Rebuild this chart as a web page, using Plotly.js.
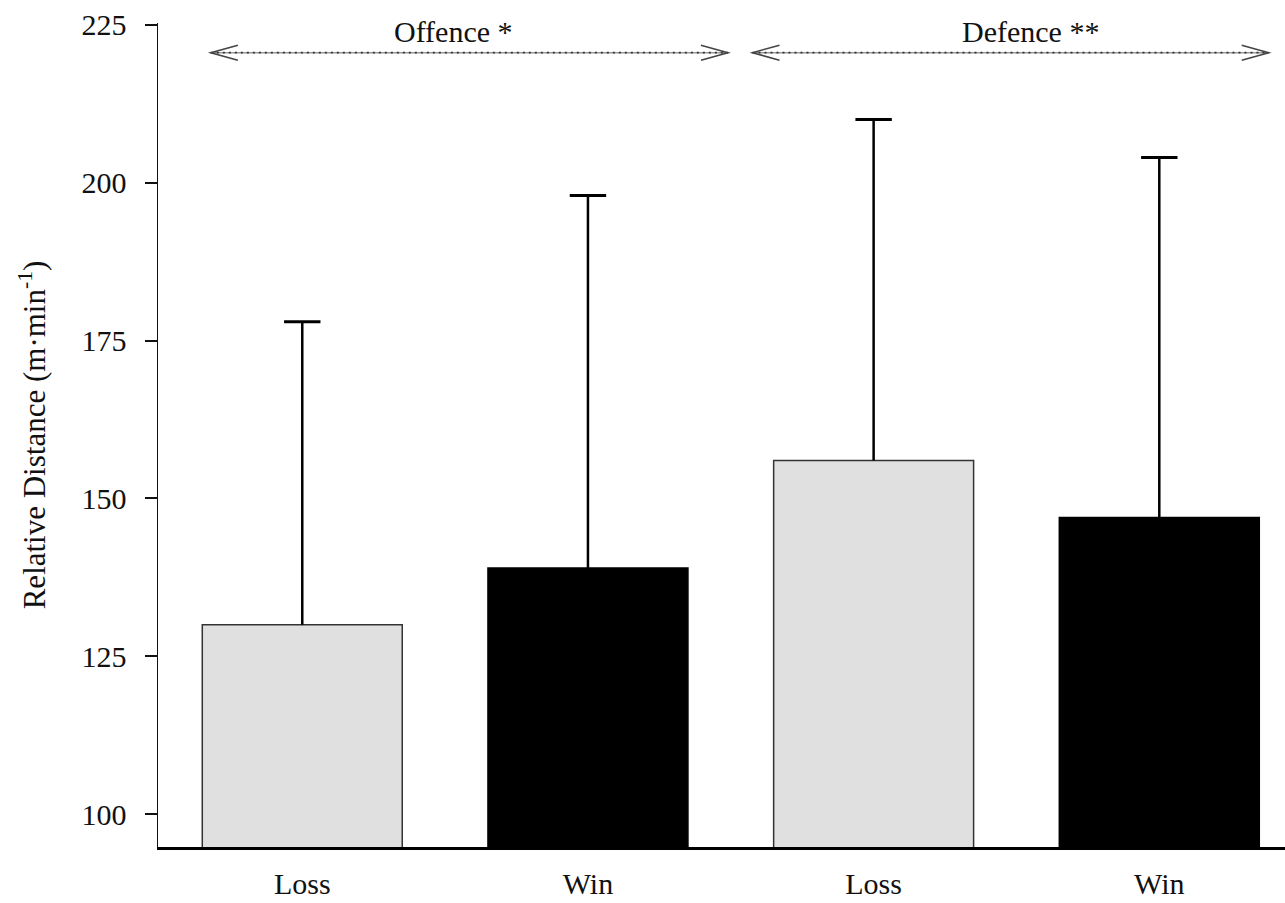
<!DOCTYPE html>
<html>
<head>
<meta charset="utf-8">
<script src="https://cdn.plot.ly/plotly-3.0.1.min.js"></script>
<style>html,body{margin:0;padding:0;background:#fff;}#chart{width:1285px;height:903px;}</style>
</head>
<body>
<div id="chart"></div>
<script>
// ---- data ----
var positions = [0, 1, 2, 3];
var tickLabels = ["Loss", "Win", "Loss", "Win"];
var outcomes = ["Loss", "Win", "Loss", "Win"];
var means = [130, 139, 156, 147];
var sds = [48, 59, 54, 57];
var yTicks = [100, 125, 150, 175, 200, 225];
var groupLabels = ["Offence *", "Defence **"];
var groupCenters = [0.53, 2.55];
var groupSpans = [[-0.32, 1.49], [1.576, 3.383]];

var colorFor = {"Loss": "#e0e0e0", "Win": "#000000"};
var outlineFor = {"Loss": "#333333", "Win": "#000000"};

var FONT = "Liberation Serif, Times New Roman, serif";

var bars = {
  type: "bar",
  x: positions,
  y: means,
  width: 0.7,
  marker: {
    color: outcomes.map(function (o) { return colorFor[o]; }),
    line: { color: outcomes.map(function (o) { return outlineFor[o]; }), width: 1.5 }
  },
  hoverinfo: "skip"
};

// upper-only error bars: stems and caps
var stemX = [], stemY = [];
var capY = [];
for (var i = 0; i < positions.length; i++) {
  stemX.push(positions[i], positions[i], null);
  stemY.push(means[i], means[i] + sds[i], null);
  capY.push(means[i] + sds[i]);
}
var stems = {
  type: "scatter", mode: "lines", x: stemX, y: stemY,
  line: { color: "#000", width: 2.5 }, hoverinfo: "skip", cliponaxis: false
};
var caps = {
  type: "scatter", mode: "markers", x: positions, y: capY,
  marker: { symbol: "line-ew", size: 26, line: { color: "#000", width: 3 } },
  hoverinfo: "skip", cliponaxis: false
};

var arrowY = 220.6;
var labelY = 223.9;
var shapes = [];
var annotations = [];
for (var g = 0; g < groupLabels.length; g++) {
  var a = groupSpans[g][0], b = groupSpans[g][1];
  shapes.push({ type: "line", xref: "x", yref: "y", x0: a, x1: b, y0: arrowY, y1: arrowY,
    line: { color: "#999999", width: 1.5 } });
  shapes.push({ type: "line", xref: "x", yref: "y", x0: a, x1: b, y0: arrowY, y1: arrowY,
    line: { color: "#333333", width: 1.8, dash: "2px,4px" } });
  // chevron heads
  shapes.push({ type: "path", xref: "x", yref: "y", xsizemode: "pixel", ysizemode: "pixel",
    xanchor: a, yanchor: arrowY, path: "M27,7.5L0,0L27,-7.5",
    line: { color: "#444444", width: 1.6 } });
  shapes.push({ type: "path", xref: "x", yref: "y", xsizemode: "pixel", ysizemode: "pixel",
    xanchor: b, yanchor: arrowY, path: "M-27,7.5L0,0L-27,-7.5",
    line: { color: "#444444", width: 1.6 } });
  annotations.push({ xref: "x", yref: "y", x: groupCenters[g], y: labelY, text: groupLabels[g],
    showarrow: false, font: { family: FONT, size: 30, color: "#111" }, xanchor: "center", yanchor: "middle" });
}

var layout = {
  width: 1285, height: 903,
  margin: { l: 158, r: 0, t: 23, b: 56 },
  paper_bgcolor: "#fff", plot_bgcolor: "#fff",
  showlegend: false,
  font: { family: FONT, size: 30, color: "#111" },
  xaxis: {
    range: [-0.505, 3.44],
    tickvals: positions, ticktext: tickLabels,
    showline: true, linecolor: "#000", linewidth: 2.5,
    ticks: "", showgrid: false, zeroline: false,
    ticklabelstandoff: 8,
    tickfont: { family: FONT, size: 30, color: "#111" }
  },
  yaxis: {
    range: [94.8, 225.3],
    tickvals: yTicks,
    showline: true, linecolor: "#111", linewidth: 1.5,
    ticks: "outside", ticklen: 12, tickwidth: 2, tickcolor: "#111",
    showgrid: false, zeroline: false,
    ticklabelstandoff: 12,
    tickfont: { family: FONT, size: 30, color: "#111" },
    title: { text: "Relative Distance (m·min<sup>-1</sup>)", standoff: 26,
      font: { family: FONT, size: 31, color: "#111" } }
  },
  shapes: shapes,
  annotations: annotations
};

Plotly.newPlot("chart", [bars, stems, caps], layout, { displayModeBar: false, staticPlot: true });
</script>
</body>
</html>
